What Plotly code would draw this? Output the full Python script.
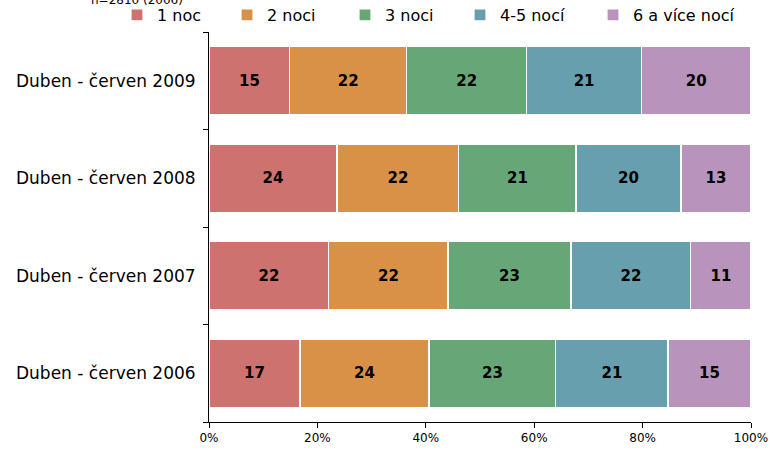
import plotly.graph_objects as go

categories = ["Duben - červen 2006", "Duben - červen 2007", "Duben - červen 2008", "Duben - červen 2009"]
series_names = ["1 noc", "2 noci", "3 noci", "4-5 nocí", "6 a více nocí"]
v_1noc = [16.8, 22.1, 23.6, 14.9]
v_2noci = [23.8, 22.0, 22.5, 21.6]
v_3noci = [23.4, 22.7, 21.6, 22.1]
v_45noci = [20.7, 22.1, 19.4, 21.2]
v_6noci = [15.3, 11.1, 12.9, 20.2]
l_1noc = ["17", "22", "24", "15"]
l_2noci = ["24", "22", "22", "22"]
l_3noci = ["23", "23", "21", "22"]
l_45noci = ["21", "22", "20", "21"]
l_6noci = ["15", "11", "13", "20"]
x_ticks = [0, 20, 40, 60, 80, 100]
x_ticklabels = ["0%", "20%", "40%", "60%", "80%", "100%"]
note = "n=2810 (2006)"

values = [v_1noc, v_2noci, v_3noci, v_45noci, v_6noci]
labels = [l_1noc, l_2noci, l_3noci, l_45noci, l_6noci]
colors = ["#CD726F", "#D99047", "#67A677", "#679FAE", "#B894BD"]

FONT = "DejaVu Sans"
W, H = 773, 453
ML, MR, MT, MB = 209, 22, 32, 31
PW = W - ML - MR
PH = H - MT - MB

def px_x(p):
    return (p - ML) / PW

def px_y(p):
    return 1 + (MT - p) / PH

legend_left_px = [117, 227, 345, 460, 593]
legend_keys = ["legend", "legend2", "legend3", "legend4", "legend5"]

fig = go.Figure()
for i in range(5):
    fig.add_trace(go.Bar(
        y=categories, x=values[i], name=series_names[i], orientation="h",
        marker=dict(color=colors[i], line=dict(color="white", width=1.2)),
        text=labels[i], textposition="inside", insidetextanchor="middle",
        textfont=dict(family=FONT, size=15, color="black", weight="bold"),
        width=0.7, legend=legend_keys[i], hoverinfo="x+name",
    ))

layout_legends = {}
for i, key in enumerate(legend_keys):
    layout_legends[key] = dict(
        x=px_x(legend_left_px[i]), xanchor="left", y=px_y(15), yanchor="middle",
        orientation="h", font=dict(family=FONT, size=16, color="black"),
        bgcolor="rgba(0,0,0,0)", borderwidth=0,
    )

fig.update_layout(
    width=W, height=H, barmode="stack",
    margin=dict(l=ML, r=MR, t=MT, b=MB, autoexpand=False),
    plot_bgcolor="white", paper_bgcolor="white",
    font=dict(family=FONT, color="black"),
    showlegend=True, bargap=0.3,
    **layout_legends,
)
fig.update_xaxes(
    range=[0, 100], tickvals=x_ticks, ticktext=x_ticklabels,
    showgrid=False, zeroline=False, showline=True, linecolor="black", linewidth=1,
    ticks="outside", ticklen=5, tickcolor="black",
    tickfont=dict(family=FONT, size=12, color="black"),
)
fig.update_yaxes(
    categoryorder="array", categoryarray=categories,
    showgrid=False, zeroline=False, showline=True, linecolor="black", linewidth=1,
    ticks="outside", ticklen=5, tickcolor="black", tickson="boundaries",
    tickfont=dict(family=FONT, size=17, color="black"), ticklabelstandoff=9,
)
fig.add_annotation(
    text=note, xref="paper", yref="paper", x=px_x(137), y=px_y(9),
    xanchor="center", yanchor="bottom", showarrow=False,
    font=dict(family=FONT, size=12, color="black"),
)
fig.write_html(
    "out.html",
    config={"displayModeBar": False},
    post_script="document.body.style.margin='0';document.body.style.overflow='hidden';",
)
